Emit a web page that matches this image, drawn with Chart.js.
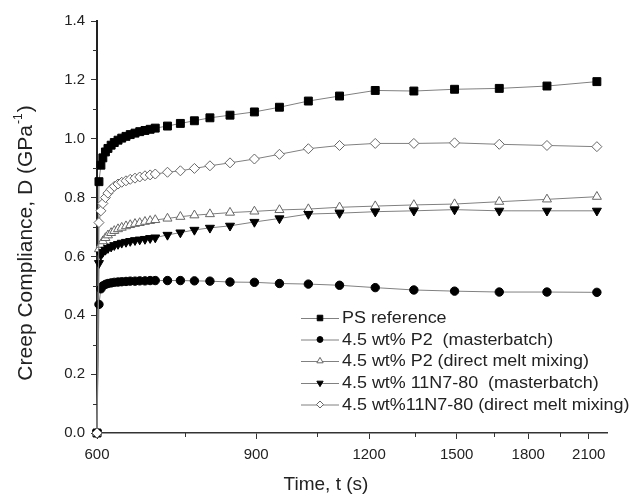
<!DOCTYPE html>
<html>
<head>
<meta charset="utf-8">
<script src="https://cdn.jsdelivr.net/npm/chart.js@4"></script>
<style>
  html, body { margin: 0; padding: 0; background: #fff; }
  #wrap { width: 635px; height: 497px; }
</style>
</head>
<body>
<div id="wrap"><canvas id="creep"></canvas></div>
<script>
const times = [600, 603, 606, 609, 613, 617, 622, 627, 633, 639, 646, 653, 661, 669, 678, 687,
  696, 718, 742, 769, 800, 842, 896, 955, 1028, 1113, 1219, 1345, 1492, 1672, 1888, 2144];

const psRef = [0, 0.854, 0.91, 0.935, 0.955, 0.967, 0.978, 0.987, 0.995, 1.002, 1.008, 1.014, 1.019, 1.024, 1.028, 1.032,
  1.036, 1.043, 1.052, 1.061, 1.071, 1.080, 1.091, 1.107, 1.128, 1.145, 1.164, 1.162, 1.168, 1.171, 1.179, 1.194];
const p2Master = [0, 0.437, 0.49, 0.5, 0.505, 0.508, 0.51, 0.512, 0.513, 0.514, 0.515, 0.516, 0.516, 0.517, 0.517, 0.518,
  0.518, 0.518, 0.518, 0.517, 0.516, 0.513, 0.512, 0.508, 0.506, 0.502, 0.494, 0.486, 0.482, 0.479, 0.479, 0.478];
const p2Direct = [0, 0.625, 0.64, 0.652, 0.663, 0.672, 0.68, 0.687, 0.693, 0.698, 0.703, 0.707, 0.711, 0.714, 0.718, 0.721,
  0.724, 0.729, 0.735, 0.74, 0.744, 0.749, 0.753, 0.758, 0.761, 0.767, 0.771, 0.775, 0.778, 0.786, 0.794, 0.803];
const n7Master = [0, 0.577, 0.605, 0.615, 0.622, 0.628, 0.633, 0.638, 0.642, 0.646, 0.649, 0.652, 0.655, 0.657, 0.659, 0.662,
  0.664, 0.673, 0.681, 0.69, 0.697, 0.704, 0.717, 0.729, 0.744, 0.747, 0.752, 0.755, 0.759, 0.755, 0.755, 0.755];
const n7Direct = [0, 0.715, 0.755, 0.78, 0.80, 0.815, 0.828, 0.838, 0.846, 0.852, 0.857, 0.862, 0.866, 0.870, 0.874, 0.877,
  0.880, 0.886, 0.891, 0.899, 0.908, 0.918, 0.931, 0.947, 0.966, 0.977, 0.984, 0.984, 0.986, 0.981, 0.977, 0.973];

const seriesLabels = [
  "PS reference",
  "4.5 wt% P2  (masterbatch)",
  "4.5 wt% P2 (direct melt mixing)",
  "4.5 wt% 11N7-80  (masterbatch)",
  "4.5 wt%11N7-80 (direct melt mixing)",
];

const xTicks = [600, 900, 1200, 1500, 1800, 2100];
const xMinor = [750, 1050, 1350, 1650, 1950];
const yMinor = [0.1, 0.3, 0.5, 0.7, 0.9, 1.1, 1.3];

const FONT = "'Liberation Sans', Arial, Helvetica, sans-serif";
const INK = "#222";
const LINE = "#808080";

const toPoints = (vals) => vals.map((v, i) => ({ x: times[i], y: v }));

const styles = [
  { pointStyle: "rect", radius: 5.6, fill: "#000", stroke: "#000", rotation: 0 },
  { pointStyle: "circle", radius: 4.2, fill: "#000", stroke: "#000", rotation: 0 },
  { pointStyle: "triangle", radius: 5.2, fill: "#fff", stroke: "#666", rotation: 0 },
  { pointStyle: "triangle", radius: 5.2, fill: "#000", stroke: "#000", rotation: 180 },
  { pointStyle: "rectRot", radius: 5, fill: "#fff", stroke: "#666", rotation: 0 },
];

const allSeries = [psRef, p2Master, p2Direct, n7Master, n7Direct];

const datasets = allSeries.map((vals, i) => ({
  label: seriesLabels[i],
  data: toPoints(vals),
  order: allSeries.length - i, // later series on top, like the original plot
  borderColor: LINE,
  borderWidth: 1,
  pointStyle: styles[i].pointStyle,
  pointRadius: styles[i].radius,
  pointRotation: styles[i].rotation,
  pointBackgroundColor: styles[i].fill,
  pointBorderColor: styles[i].stroke,
  pointBorderWidth: 1,
  tension: 0,
  fill: false,
  clip: false,
}));

// minor ticks, axis titles and the in-plot legend
const extras = {
  id: "extras",
  afterDraw(chart) {
    const { ctx, scales } = chart;
    const xs = scales.x, ys = scales.y;
    ctx.save();
    ctx.strokeStyle = "#333";
    ctx.lineWidth = 1;
    xMinor.forEach((v) => {
      const px = Math.round(xs.getPixelForValue(v)) + 0.5;
      ctx.beginPath();
      ctx.moveTo(px, ys.bottom);
      ctx.lineTo(px, ys.bottom + 4);
      ctx.stroke();
    });
    yMinor.forEach((v) => {
      const py = Math.round(ys.getPixelForValue(v)) + 0.5;
      ctx.beginPath();
      ctx.moveTo(xs.left, py);
      ctx.lineTo(xs.left - 4, py);
      ctx.stroke();
    });

    // x title
    ctx.fillStyle = INK;
    ctx.font = "19px " + FONT;
    ctx.textAlign = "center";
    ctx.textBaseline = "middle";
    ctx.fillText("Time, t (s)", 326, 485);

    // y title with superscript
    ctx.save();
    ctx.translate(26, 243);
    ctx.rotate(-Math.PI / 2);
    const main = "Creep Compliance, D (GPa";
    const sup = "-1";
    const close = ")";
    ctx.font = "21px " + FONT;
    const w1 = ctx.measureText(main).width;
    const w3 = ctx.measureText(close).width;
    ctx.font = "12px " + FONT;
    const w2 = ctx.measureText(sup).width;
    const x0 = -(w1 + w2 + w3 + 2) / 2;
    ctx.textAlign = "left";
    ctx.font = "21px " + FONT;
    ctx.fillText(main, x0, 0);
    ctx.font = "12px " + FONT;
    ctx.fillText(sup, x0 + w1 + 1, -7);
    ctx.font = "21px " + FONT;
    ctx.fillText(close, x0 + w1 + w2 + 2, 0);
    ctx.restore();

    // legend
    const rowY = [318, 339.5, 361, 383, 404.5];
    chart.data.datasets.forEach((ds, i) => {
      const y = rowY[i];
      ctx.strokeStyle = LINE;
      ctx.lineWidth = 1;
      ctx.beginPath();
      ctx.moveTo(301, y + 0.5);
      ctx.lineTo(339, y + 0.5);
      ctx.stroke();
      ctx.fillStyle = ds.pointBackgroundColor;
      ctx.strokeStyle = ds.pointBorderColor;
      Chart.helpers.drawPoint(ctx, {
        pointStyle: ds.pointStyle,
        radius: ds.pointRadius * 0.7,
        rotation: ds.pointRotation,
        borderWidth: 1,
      }, 320, y);
      ctx.save();
      ctx.translate(342, y + 1);
      ctx.scale(1.12, 1);
      ctx.fillStyle = INK;
      ctx.font = "16px " + FONT;
      ctx.textAlign = "left";
      ctx.textBaseline = "middle";
      ctx.fillText(ds.label, 0, 0);
      ctx.restore();
    });
    ctx.restore();
  },
};

const ctx = document.getElementById("creep").getContext("2d");
const chart = new Chart(ctx, {
  type: "line",
  data: { datasets },
  options: {
    responsive: true,
    maintainAspectRatio: false,
    animation: false,
    layout: { padding: { top: 21, right: 28, left: 0, bottom: 0 } },
    plugins: {
      legend: { display: false },
      tooltip: { enabled: false },
    },
    scales: {
      x: {
        type: "logarithmic",
        min: 600,
        max: 2200,
        afterBuildTicks: (scale) => {
          scale.ticks = xTicks.map((v) => ({ value: v }));
        },
        afterFit: (scale) => { scale.height = 64; },
        grid: { drawOnChartArea: false, drawTicks: true, tickLength: 6, color: "#333" },
        border: { color: "#333", width: 1.5 },
        ticks: {
          color: INK,
          font: { family: FONT, size: 15 },
          padding: 7,
          maxRotation: 0,
          autoSkip: false,
          callback: (v) => String(v),
        },
      },
      y: {
        min: 0,
        max: 1.4,
        afterFit: (scale) => { scale.width = 97; },
        grid: { drawOnChartArea: false, drawTicks: true, tickLength: 6, color: "#333" },
        border: { color: "#222", width: 2 },
        ticks: {
          stepSize: 0.2,
          color: INK,
          font: { family: FONT, size: 15 },
          padding: 6,
          callback: (v) => v.toFixed(1),
        },
      },
    },
  },
  plugins: [extras],
});
</script>
</body>
</html>
